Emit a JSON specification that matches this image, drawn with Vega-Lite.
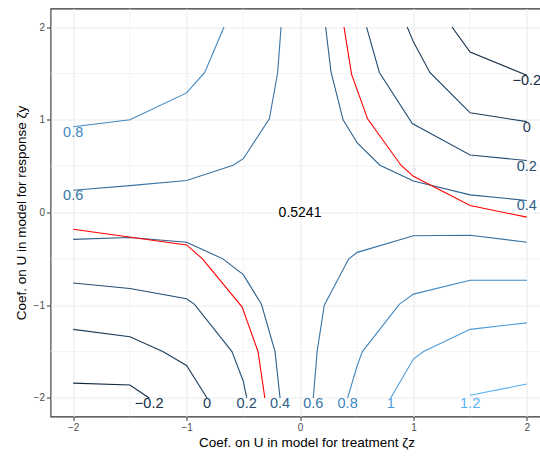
{
  "$schema": "https://vega.github.io/schema/vega-lite/v6.json",
  "width": 499,
  "height": 408,
  "autosize": {"type": "none"},
  "padding": {"left": 50.5, "top": 8.5, "right": 0, "bottom": 42.5},
  "background": "white",
  "config": {
    "font": "Liberation Sans",
    "view": {"stroke": "#333333", "strokeWidth": 1.1},
    "axis": {
      "domain": false,
      "grid": true,
      "gridColor": "#EBEBEB",
      "gridWidth": 1.1,
      "ticks": true,
      "tickColor": "#333333",
      "tickSize": 4,
      "tickWidth": 1,
      "labelColor": "#4D4D4D",
      "labelFontSize": 10,
      "labelFont": "Liberation Sans",
      "titleFont": "Liberation Sans",
      "titleFontSize": 13.5,
      "titleFontWeight": "normal",
      "titleColor": "#000000"
    }
  },
  "datasets": {
    "minor": [{"v": -1.5}, {"v": -0.5}, {"v": 0.5}, {"v": 1.5}],
    "contours": [
      {"id": "a08", "level": 0.8, "o": 1, "x": -2, "y": 0.924},
      {"id": "a08", "level": 0.8, "o": 2, "x": -1.5, "y": 1.0},
      {"id": "a08", "level": 0.8, "o": 3, "x": -1.0, "y": 1.29},
      {"id": "a08", "level": 0.8, "o": 4, "x": -0.84, "y": 1.51},
      {"id": "a08", "level": 0.8, "o": 5, "x": -0.67, "y": 2.0},
      {"id": "a06", "level": 0.6, "o": 1, "x": -2, "y": 0.24},
      {"id": "a06", "level": 0.6, "o": 2, "x": -1.5, "y": 0.29},
      {"id": "a06", "level": 0.6, "o": 3, "x": -1.0, "y": 0.345},
      {"id": "a06", "level": 0.6, "o": 4, "x": -0.59, "y": 0.51},
      {"id": "a06", "level": 0.6, "o": 5, "x": -0.5, "y": 0.58},
      {"id": "a06", "level": 0.6, "o": 6, "x": -0.27, "y": 1.01},
      {"id": "a06", "level": 0.6, "o": 7, "x": -0.197, "y": 1.51},
      {"id": "a06", "level": 0.6, "o": 8, "x": -0.167, "y": 2.0},
      {"id": "b04", "level": 0.4, "o": 1, "x": 0.226, "y": 2.0},
      {"id": "b04", "level": 0.4, "o": 2, "x": 0.273, "y": 1.52},
      {"id": "b04", "level": 0.4, "o": 3, "x": 0.38, "y": 1.0},
      {"id": "b04", "level": 0.4, "o": 4, "x": 0.505, "y": 0.75},
      {"id": "b04", "level": 0.4, "o": 5, "x": 0.705, "y": 0.51},
      {"id": "b04", "level": 0.4, "o": 6, "x": 1.0, "y": 0.34},
      {"id": "b04", "level": 0.4, "o": 7, "x": 1.5, "y": 0.19},
      {"id": "b04", "level": 0.4, "o": 8, "x": 2.0, "y": 0.13},
      {"id": "b02", "level": 0.2, "o": 1, "x": 0.587, "y": 2.0},
      {"id": "b02", "level": 0.2, "o": 2, "x": 0.70, "y": 1.51},
      {"id": "b02", "level": 0.2, "o": 3, "x": 0.99, "y": 0.96},
      {"id": "b02", "level": 0.2, "o": 4, "x": 1.5, "y": 0.62},
      {"id": "b02", "level": 0.2, "o": 5, "x": 2.0, "y": 0.56},
      {"id": "b00", "level": 0.0, "o": 1, "x": 0.945, "y": 2.0},
      {"id": "b00", "level": 0.0, "o": 2, "x": 1.0, "y": 1.84},
      {"id": "b00", "level": 0.0, "o": 3, "x": 1.145, "y": 1.51},
      {"id": "b00", "level": 0.0, "o": 4, "x": 1.5, "y": 1.075},
      {"id": "b00", "level": 0.0, "o": 5, "x": 2.0, "y": 0.98},
      {"id": "bm02", "level": -0.2, "o": 1, "x": 1.34, "y": 2.0},
      {"id": "bm02", "level": -0.2, "o": 2, "x": 1.5, "y": 1.73},
      {"id": "bm02", "level": -0.2, "o": 3, "x": 2.0, "y": 1.48},
      {"id": "c04", "level": 0.4, "o": 1, "x": -2, "y": -0.29},
      {"id": "c04", "level": 0.4, "o": 2, "x": -1.5, "y": -0.27},
      {"id": "c04", "level": 0.4, "o": 3, "x": -1.0, "y": -0.32},
      {"id": "c04", "level": 0.4, "o": 4, "x": -0.68, "y": -0.5},
      {"id": "c04", "level": 0.4, "o": 5, "x": -0.5, "y": -0.67},
      {"id": "c04", "level": 0.4, "o": 6, "x": -0.34, "y": -0.99},
      {"id": "c04", "level": 0.4, "o": 7, "x": -0.22, "y": -1.5},
      {"id": "c04", "level": 0.4, "o": 8, "x": -0.176, "y": -2.0},
      {"id": "c02", "level": 0.2, "o": 1, "x": -2, "y": -0.76},
      {"id": "c02", "level": 0.2, "o": 2, "x": -1.5, "y": -0.82},
      {"id": "c02", "level": 0.2, "o": 3, "x": -1.0, "y": -0.93},
      {"id": "c02", "level": 0.2, "o": 4, "x": -0.93, "y": -0.99},
      {"id": "c02", "level": 0.2, "o": 5, "x": -0.6, "y": -1.5},
      {"id": "c02", "level": 0.2, "o": 6, "x": -0.5, "y": -1.82},
      {"id": "c02", "level": 0.2, "o": 7, "x": -0.47, "y": -2.0},
      {"id": "c00", "level": 0.0, "o": 1, "x": -2, "y": -1.26},
      {"id": "c00", "level": 0.0, "o": 2, "x": -1.5, "y": -1.34},
      {"id": "c00", "level": 0.0, "o": 3, "x": -1.21, "y": -1.5},
      {"id": "c00", "level": 0.0, "o": 4, "x": -1.0, "y": -1.65},
      {"id": "c00", "level": 0.0, "o": 5, "x": -0.82, "y": -2.0},
      {"id": "cm02", "level": -0.2, "o": 1, "x": -2, "y": -1.84},
      {"id": "cm02", "level": -0.2, "o": 2, "x": -1.5, "y": -1.86},
      {"id": "cm02", "level": -0.2, "o": 3, "x": -1.33, "y": -2.0},
      {"id": "d06", "level": 0.6, "o": 1, "x": 0.117, "y": -2.0},
      {"id": "d06", "level": 0.6, "o": 2, "x": 0.152, "y": -1.49},
      {"id": "d06", "level": 0.6, "o": 3, "x": 0.214, "y": -1.0},
      {"id": "d06", "level": 0.6, "o": 4, "x": 0.43, "y": -0.5},
      {"id": "d06", "level": 0.6, "o": 5, "x": 0.505, "y": -0.43},
      {"id": "d06", "level": 0.6, "o": 6, "x": 1.0, "y": -0.25},
      {"id": "d06", "level": 0.6, "o": 7, "x": 1.5, "y": -0.245},
      {"id": "d06", "level": 0.6, "o": 8, "x": 2.0, "y": -0.32},
      {"id": "d08", "level": 0.8, "o": 1, "x": 0.42, "y": -2.0},
      {"id": "d08", "level": 0.8, "o": 2, "x": 0.505, "y": -1.65},
      {"id": "d08", "level": 0.8, "o": 3, "x": 0.55, "y": -1.5},
      {"id": "d08", "level": 0.8, "o": 4, "x": 0.875, "y": -0.99},
      {"id": "d08", "level": 0.8, "o": 5, "x": 1.0, "y": -0.88},
      {"id": "d08", "level": 0.8, "o": 6, "x": 1.5, "y": -0.73},
      {"id": "d08", "level": 0.8, "o": 7, "x": 2.0, "y": -0.73},
      {"id": "d10", "level": 1.0, "o": 1, "x": 0.8, "y": -2.0},
      {"id": "d10", "level": 1.0, "o": 2, "x": 1.0, "y": -1.58},
      {"id": "d10", "level": 1.0, "o": 3, "x": 1.09, "y": -1.5},
      {"id": "d10", "level": 1.0, "o": 4, "x": 1.5, "y": -1.26},
      {"id": "d10", "level": 1.0, "o": 5, "x": 2.0, "y": -1.19},
      {"id": "d12", "level": 1.2, "o": 1, "x": 1.5, "y": -1.97},
      {"id": "d12", "level": 1.2, "o": 2, "x": 2.0, "y": -1.85}
    ],
    "red": [
      {"id": "r1", "o": 1, "x": 0.388, "y": 2.0},
      {"id": "r1", "o": 2, "x": 0.455, "y": 1.49},
      {"id": "r1", "o": 3, "x": 0.596, "y": 1.01},
      {"id": "r1", "o": 4, "x": 0.89, "y": 0.51},
      {"id": "r1", "o": 5, "x": 1.0, "y": 0.39},
      {"id": "r1", "o": 6, "x": 1.5, "y": 0.075},
      {"id": "r1", "o": 7, "x": 2.0, "y": -0.05},
      {"id": "r2", "o": 1, "x": -2, "y": -0.18},
      {"id": "r2", "o": 2, "x": -1.0, "y": -0.35},
      {"id": "r2", "o": 3, "x": -0.86, "y": -0.5},
      {"id": "r2", "o": 4, "x": -0.51, "y": -1.02},
      {"id": "r2", "o": 5, "x": -0.37, "y": -1.5},
      {"id": "r2", "o": 6, "x": -0.31, "y": -2.0}
    ],
    "labels": [
      {"level": 0.8, "label": "0.8", "x": -2, "y": 0.924},
      {"level": 0.6, "label": "0.6", "x": -2, "y": 0.24},
      {"level": -0.2, "label": "−0.2", "x": 2, "y": 1.48},
      {"level": 0.0, "label": "0", "x": 2, "y": 0.98},
      {"level": 0.2, "label": "0.2", "x": 2, "y": 0.56},
      {"level": 0.4, "label": "0.4", "x": 2, "y": 0.13},
      {"level": -0.2, "label": "−0.2", "x": -1.33, "y": -2.0},
      {"level": 0.0, "label": "0", "x": -0.82, "y": -2.0},
      {"level": 0.2, "label": "0.2", "x": -0.47, "y": -2.0},
      {"level": 0.4, "label": "0.4", "x": -0.176, "y": -2.0},
      {"level": 0.6, "label": "0.6", "x": 0.117, "y": -2.0},
      {"level": 0.8, "label": "0.8", "x": 0.42, "y": -2.0},
      {"level": 1.0, "label": "1", "x": 0.8, "y": -2.0},
      {"level": 1.2, "label": "1.2", "x": 1.5, "y": -2.0}
    ],
    "estimate": [{"label": "0.5241", "x": 0, "y": 0}]
  },
  "layer": [
    {
      "data": {"name": "minor"},
      "mark": {"type": "rule", "color": "#EBEBEB", "strokeWidth": 0.6},
      "encoding": {
        "x": {
          "field": "v", "type": "quantitative",
          "scale": {"domain": [-2.2, 2.2], "nice": false, "zero": false},
          "axis": {"values": [-2, -1, 0, 1, 2], "labelPadding": 2, "titlePadding": 3, "titleX": 256, "format": "d", "labelExpr": "replace(datum.label, '-', '−')"},
          "title": "Coef. on U in model for treatment ζz"
        }
      }
    },
    {
      "data": {"name": "minor"},
      "mark": {"type": "rule", "color": "#EBEBEB", "strokeWidth": 0.6},
      "encoding": {
        "y": {
          "field": "v", "type": "quantitative",
          "scale": {"domain": [-2.2, 2.2], "nice": false, "zero": false},
          "axis": {"values": [-2, -1, 0, 1, 2], "labelPadding": 2, "titlePadding": 5, "format": "d", "labelExpr": "replace(datum.label, '-', '−')"},
          "title": "Coef. on U in model for response ζy"
        }
      }
    },
    {
      "data": {"name": "contours"},
      "mark": {"type": "line", "strokeWidth": 1.1},
      "encoding": {
        "x": {"field": "x", "type": "quantitative", "title": "Coef. on U in model for treatment ζz"},
        "y": {"field": "y", "type": "quantitative", "title": "Coef. on U in model for response ζy"},
        "detail": {"field": "id"},
        "order": {"field": "o"},
        "color": {
          "field": "level", "type": "quantitative",
          "scale": {"domain": [-0.2, 1.2], "range": ["#132B43", "#56B1F7"], "interpolate": "lab"},
          "legend": null
        }
      }
    },
    {
      "data": {"name": "red"},
      "mark": {"type": "line", "strokeWidth": 1.1, "color": "#FF0000"},
      "encoding": {
        "x": {"field": "x", "type": "quantitative", "title": "Coef. on U in model for treatment ζz"},
        "y": {"field": "y", "type": "quantitative", "title": "Coef. on U in model for response ζy"},
        "detail": {"field": "id"},
        "order": {"field": "o"}
      }
    },
    {
      "data": {"name": "labels"},
      "mark": {"type": "text", "fontSize": 14.5, "dy": 6, "align": "center", "baseline": "middle", "font": "Liberation Sans"},
      "encoding": {
        "x": {"field": "x", "type": "quantitative", "title": "Coef. on U in model for treatment ζz"},
        "y": {"field": "y", "type": "quantitative", "title": "Coef. on U in model for response ζy"},
        "text": {"field": "label"},
        "color": {"field": "level", "type": "quantitative", "legend": null}
      }
    },
    {
      "data": {"name": "estimate"},
      "mark": {"type": "text", "fontSize": 14, "align": "center", "baseline": "middle", "color": "#000000", "font": "Liberation Sans"},
      "encoding": {
        "x": {"field": "x", "type": "quantitative", "title": "Coef. on U in model for treatment ζz"},
        "y": {"field": "y", "type": "quantitative", "title": "Coef. on U in model for response ζy"},
        "text": {"field": "label"}
      }
    }
  ]
}
